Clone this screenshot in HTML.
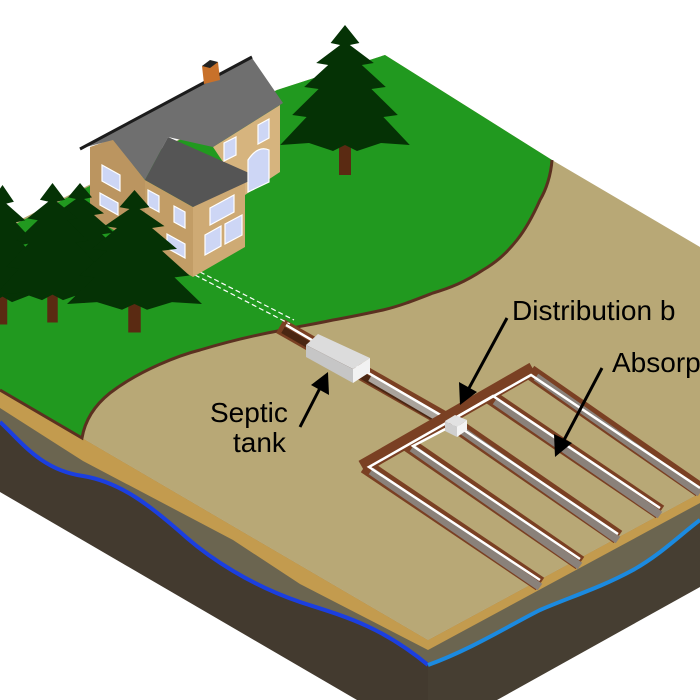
<!DOCTYPE html>
<html><head><meta charset="utf-8"><style>
html,body{margin:0;padding:0;background:#fff;}
svg{display:block;}
text{font-family:"Liberation Sans",sans-serif;font-size:28px;fill:#000;}
</style></head><body>
<svg width="700" height="700" viewBox="0 0 700 700" xmlns="http://www.w3.org/2000/svg">
<defs>
<symbol id="pine" viewBox="0 0 100 150" overflow="visible">
<rect x="45" y="110" width="10" height="40" fill="#5a2a12"/>
<polygon fill="#053205" points="50,0 62,18 54,20 74,38 64,40 84,62 72,64 94,90 82,92 104,120 80,118 60,126 50,120 40,126 20,118 -4,120 18,92 6,90 28,64 16,62 36,40 26,38 46,20 38,18"/>
</symbol>
</defs>

<polygon points="0,390 428,640 428,700 357,700 0,492" fill="#433a2f"/>
<polygon points="428,640 700,493 700,587 497,700 428,700" fill="#463e32"/>
<path d="M0,405 L428,648 L428,665 C410,650 380,630 367,627 C340,615 300,602 300,602 C250,585 210,558 187,538 C150,505 120,482 83,476 C40,470 20,440 0,422 Z" fill="#6b6550"/>
<path d="M428,648 L700,500 L700,520 C680,535 660,555 633,570 C600,588 570,597 540,610 C510,625 470,650 428,665 Z" fill="#6b6550"/>
<polygon points="0,390 428,640 428,650 300,584 233,540 83,461 0,408" fill="#c39b4e"/>
<polygon points="428,640 700,493 700,503 428,650" fill="#c39b4e"/>
<path d="M0,422 C20,440 40,470 83,476 C120,482 150,505 187,538 C210,558 250,585 300,602 C340,615 380,625 428,665" fill="none" stroke="#1b3fe0" stroke-width="4"/>
<path d="M428,665 C470,650 510,625 540,610 C570,597 600,588 633,570 C660,555 680,535 700,520" fill="none" stroke="#1b8ae0" stroke-width="4"/>

<polygon points="0,230 277,90 385,55 552,160 700,247 700,493 428,640 0,390" fill="#b8a876"/>
<path d="M0,232 L277,90 L385,55 L552,160 C551,175 546,190 540,200 C532,218 525,230 517,240 C505,255 495,263 483,270 C465,282 450,288 433,293 C415,300 400,306 383,310 C360,315 345,318 333,320 C310,325 295,327 283,330 C250,336 220,344 200,350 C180,355 140,370 110,393 C95,405 85,420 82,438 L0,390 Z" fill="#21991f"/>
<path d="M552,160 C551,175 546,190 540,200 C532,218 525,230 517,240 C505,255 495,263 483,270 C465,282 450,288 433,293 C415,300 400,306 383,310 C360,315 345,318 333,320 C310,325 295,327 283,330 C250,336 220,344 200,350 C180,355 140,370 110,393 C95,405 85,420 82,438 L0,390" fill="none" stroke="#5b3020" stroke-width="3"/>

<line x1="280" y1="326" x2="456" y2="426" stroke="#7a4023" stroke-width="16"/>
<line x1="283" y1="330" x2="456" y2="430" stroke="#4a2612" stroke-width="7"/>
<line x1="370" y1="378" x2="445" y2="422" stroke="#aaa39c" stroke-width="7"/>
<line x1="286" y1="325" x2="456" y2="424" stroke="#fff" stroke-width="2.5"/>
<line x1="195" y1="275" x2="290" y2="324" stroke="#fff" stroke-width="1.2" stroke-dasharray="5 3"/>
<line x1="200" y1="272" x2="294" y2="320" stroke="#fff" stroke-width="1.2" stroke-dasharray="5 3"/>

<g stroke-linecap="butt">
<line x1="362" y1="467" x2="533" y2="369" stroke="#7a4023" stroke-width="14"/>
<g stroke="#7a4023" stroke-width="15">
<line x1="365" y1="466" x2="540" y2="584"/>
<line x1="406" y1="443" x2="580" y2="563"/>
<line x1="447" y1="419" x2="618" y2="537"/>
<line x1="489" y1="396" x2="660" y2="512"/>
<line x1="530" y1="372" x2="700" y2="490"/>
</g>
<g stroke="#8a817a" stroke-width="8">
<line x1="371" y1="471" x2="540" y2="587"/>
<line x1="412" y1="448" x2="580" y2="566"/>
<line x1="453" y1="424" x2="618" y2="540"/>
<line x1="495" y1="401" x2="660" y2="515"/>
<line x1="536" y1="377" x2="700" y2="493"/>
</g>
<polyline points="540,580 369,467 455,418 531,375 700,488" fill="none" stroke="#fff" stroke-width="2.5"/>
<polyline points="580,559 413,446 455,424" fill="none" stroke="#fff" stroke-width="2.5"/>
<polyline points="660,508 493,396 455,418" fill="none" stroke="#fff" stroke-width="2.5"/>
<line x1="455" y1="424" x2="618" y2="534" stroke="#fff" stroke-width="2.5"/>
</g>

<polygon points="306,345 318,334 370,358 353,369" fill="#dcdcdc"/>
<polygon points="306,345 353,369 353,383 306,357" fill="#c6c6c6"/>
<polygon points="353,369 370,358 370,372 353,383" fill="#f2f2f2"/>
<polygon points="445,421 455,415 467,420 457,427" fill="#e2e2e2"/>
<polygon points="445,421 457,427 457,437 445,431" fill="#cfcfcf"/>
<polygon points="457,427 467,420 467,430 457,437" fill="#f4f4f4"/>

<use href="#pine" width="100" height="150" transform="translate(285,25) scale(1.2,1.0)"/>

<polygon points="213,147 280,105 280,172 245,195" fill="#d6b47e"/>
<polygon points="90,147 113,139 145,180 145,250 90,215" fill="#bb9560"/>
<polygon points="82,148 252,58 283,103 213,147 168,137 145,180 113,140" fill="#6f6f6f"/>
<line x1="80" y1="149" x2="252" y2="57" stroke="#1c1c1c" stroke-width="3"/>
<polygon points="145,180 193,207 193,277 145,250" fill="#c29d66"/>
<polygon points="193,207 245,172 245,247 193,277" fill="#ceaa74"/>
<polygon points="168,137 258,177 193,207 145,180" fill="#555"/>
<polygon points="202,66 218,62 220,80 204,84" fill="#c8712a"/>
<polygon points="202,66 210,60 218,62 210,68" fill="#222"/>
<g fill="#cdd6f5" stroke="#fff" stroke-width="1.2">
<polygon points="258,125 269,119 269,138 258,144"/>
<polygon points="224,143 236,137 236,155 224,161"/>
<path d="M248,160 Q258,145 269,150 L269,182 L248,192 Z"/>
<polygon points="210,208 234,195 234,212 210,225"/>
<polygon points="205,235 221,226 221,246 205,255"/>
<polygon points="225,224 242,215 242,235 225,244"/>
<polygon points="102,165 120,175 120,191 102,181"/>
<polygon points="100,193 118,203 118,215 100,205"/>
<polygon points="148,190 159,196 159,212 148,206"/>
<polygon points="174,206 185,212 185,228 174,222"/>
<polygon points="167,234 185,244 185,258 167,248"/>
</g>

<use href="#pine" width="100" height="150" transform="translate(30,183) scale(1.0,0.8)"/>
<use href="#pine" width="100" height="150" transform="translate(-45,185) scale(0.95,0.93)"/>
<use href="#pine" width="100" height="150" transform="translate(0,183) scale(1.05,0.93)"/>
<use href="#pine" width="100" height="150" transform="translate(72,190) scale(1.25,0.95)"/>

<text x="512" y="320">Distribution b</text>
<text x="612" y="372">Absorp</text>
<text x="210" y="422">Septic</text>
<text x="233" y="452">tank</text>

<g stroke="#000" stroke-width="3">
<line x1="300" y1="427" x2="320" y2="388"/>
<line x1="507" y1="318" x2="468" y2="390"/>
<line x1="602" y1="368" x2="563" y2="442"/>
</g>
<polygon points="328,372 329,395 311,385" fill="#000"/>
<polygon points="460,405 459,382 477,392" fill="#000"/>
<polygon points="555,457 554,434 572,443" fill="#000"/>
</svg>
</body></html>
